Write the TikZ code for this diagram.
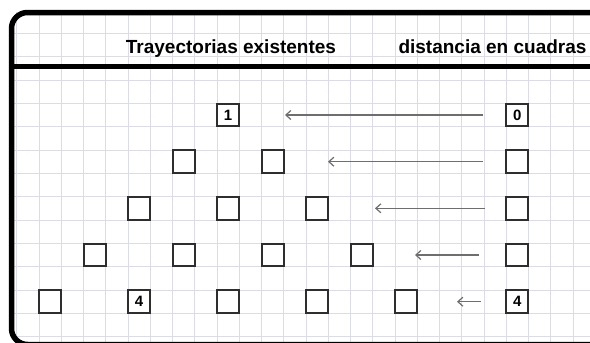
\documentclass[tikz,border=0pt]{standalone}
\usepackage{fontspec}
\setmainfont{Liberation Sans}
\usetikzlibrary{arrows.meta}
\definecolor{gridc}{HTML}{DCDCE4}
\definecolor{arrc}{HTML}{6E6E6E}
\definecolor{sqc}{HTML}{2E2E2E}
\tikzset{
  sq/.style={draw=sqc, line width=2pt, minimum width=22pt, minimum height=22.5pt, inner sep=0pt, font=\fontsize{15}{15}\selectfont\bfseries},
  hdr/.style={anchor=base, inner sep=0pt, font=\fontsize{19}{19}\selectfont\bfseries},
  arr/.style={draw=arrc, line width=1.2pt, -{Straight Barb[length=5pt,width=9pt]}},
  frame/.style={line width=5.5pt, black}
}
\begin{document}
\begin{tikzpicture}[x=1pt,y=-1pt]
\useasboundingbox (0,0) rectangle (590,343);
\clip (0,0) rectangle (590,343);
\fill[white] (0,0) rectangle (590,343);
% grid
\begin{scope}
\clip (11.5,12.5) rectangle (600,342);
\foreach \k in {0,...,26}{
  \draw[gridc, line width=0.9pt] ({16.75+22.25*\k},12) -- ({16.75+22.25*\k},343);
}
\foreach \k in {1,...,14}{
  \draw[gridc, line width=0.9pt] (11,{10+23.333*\k}) -- (600,{10+23.333*\k});
}
\end{scope}
% frame
\draw[frame, rounded corners=16pt] (600,12.5) -- (11.5,12.5) -- (11.5,344.5) -- (600,344.5);
\draw[line width=5pt] (11.5,66.5) -- (600,66.5);
% header
\node[hdr] (h1) at (231,53) {Trayectorias existentes};
\node[hdr] (h2) at (492.5,53) {distancia en cuadras};
% squares
\foreach \r/\cols in {1/{8}, 2/{6,10}, 3/{4,8,12}, 4/{2,6,10,14}, 5/{0,4,8,12,16}}{
  \foreach \c in \cols {
    \node[sq] (s\r-\c) at ({50.125+22.25*\c},{115+46.667*(\r-1)}) {};
  }
}
\node[sq] at (s1-8) {1};
\node[sq] at (s5-4) {4};
% right column
\node[sq] (d1) at (517.4,115) {0};
\node[sq] (d2) at (517.4,161.7) {};
\node[sq] (d3) at (517.4,208.3) {};
\node[sq] (d4) at (517.4,255) {};
\node[sq] (d5) at (517.4,301.7) {4};
% arrows
\coordinate (a1s) at (483,115);   \coordinate (a1e) at (285,115);
\coordinate (a2s) at (483,161.7); \coordinate (a2e) at (328,161.7);
\coordinate (a3s) at (485,208.3); \coordinate (a3e) at (375,208.3);
\coordinate (a4s) at (479,255);   \coordinate (a4e) at (415,255);
\coordinate (a5s) at (481,301.7); \coordinate (a5e) at (457,301.7);
\foreach \i in {1,...,5}{ \draw[arr] (a\i s) -- (a\i e); }
\end{tikzpicture}
\end{document}
